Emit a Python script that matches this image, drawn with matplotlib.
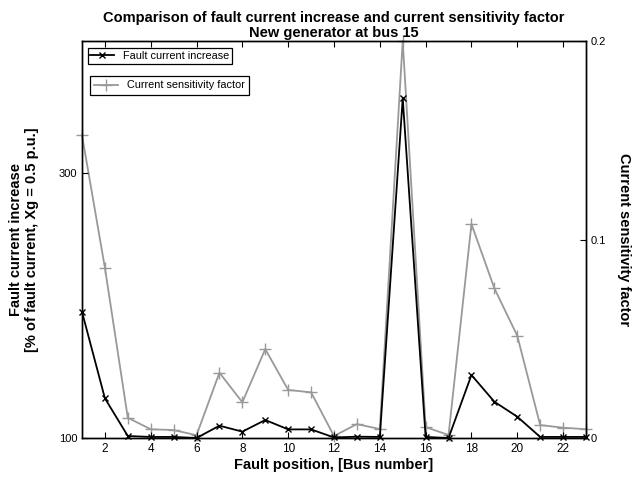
import numpy as np
import matplotlib
matplotlib.use("Agg")
import matplotlib.pyplot as plt

plt.rcParams['font.family'] = ['Liberation Sans', 'DejaVu Sans']

bus = np.arange(1, 24)
fault_increase = [195.4, 130, 101.5, 100.8, 100.8, 100, 109.3, 104.8, 113.6, 106.5, 106.5,
                  100.4, 101, 100.8, 356.7, 100.8, 100, 147.6, 127.4, 116.1, 100.8, 100.8, 100.8]
sensitivity = [0.1526, 0.0858, 0.0102, 0.0044, 0.004, 0.0014, 0.0329, 0.018, 0.0448, 0.0242, 0.023,
               0.001, 0.007, 0.0045, 0.2, 0.0055, 0.0015, 0.1078, 0.0754, 0.0515, 0.0065, 0.0052, 0.0044]

fig = plt.figure(figsize=(6.38, 4.79), dpi=100)
ax = fig.add_axes([0.1285, 0.0856, 0.79, 0.8288])
ax2 = ax.twinx()

l1, = ax.plot(bus, fault_increase, color='black', marker='x', markersize=4, lw=1.3,
              label='Fault current increase', clip_on=False, zorder=3)
l2, = ax2.plot(bus, sensitivity, color='#999999', marker='+', markersize=8, lw=1.3,
               label='Current sensitivity factor', clip_on=False)
ax.set_zorder(ax2.get_zorder() + 1)
ax.patch.set_visible(False)

ax.set_xlim(1, 23)
ax.set_ylim(100, 400)
ax2.set_ylim(0, 0.2)
ax.set_xticks(range(2, 23, 2))
ax.set_yticks([100, 300])
ax2.set_yticks([0, 0.1, 0.2])
ax2.set_yticklabels(['0', '0.1', '0.2'])

ax.tick_params(direction='in', top=True, length=4, labelsize=8, width=0.8)
ax.tick_params(axis='x', labelsize=8.5)
ax2.tick_params(direction='in', length=4, labelsize=8, width=0.8)
for a in (ax, ax2):
    for s in a.spines.values():
        s.set_linewidth(1.0)

ax.set_xlabel('Fault position, [Bus number]', fontsize=10.5, fontweight='bold', labelpad=2)
ax.set_ylabel('Fault current increase\n[% of fault current, Xg = 0.5 p.u.]',
              fontsize=10.5, fontweight='bold', labelpad=14)
ax2.set_ylabel('Current sensitivity factor', fontsize=10.5, fontweight='bold',
               rotation=270, va='center')
ax2.yaxis.set_label_coords(1.075, 0.5)
ax.set_title('Comparison of fault current increase and current sensitivity factor\nNew generator at bus 15',
             fontsize=10.5, fontweight='bold', pad=3, linespacing=1.1)

leg1 = ax.legend(handles=[l1], loc='upper left', bbox_to_anchor=(0.005, 0.99), fontsize=7.8,
                 fancybox=False, edgecolor='black', framealpha=1, borderpad=0.25,
                 handlelength=2.2, borderaxespad=0.3)
leg1.get_frame().set_linewidth(0.9)
leg2 = ax.legend(handles=[l2], loc='upper left', bbox_to_anchor=(0.009, 0.92), fontsize=7.8,
                 fancybox=False, edgecolor='black', framealpha=1, borderpad=0.4,
                 handlelength=2.2, borderaxespad=0.3)
leg2.get_frame().set_linewidth(0.9)
ax.add_artist(leg1)

fig.savefig('out.png', dpi=100)
